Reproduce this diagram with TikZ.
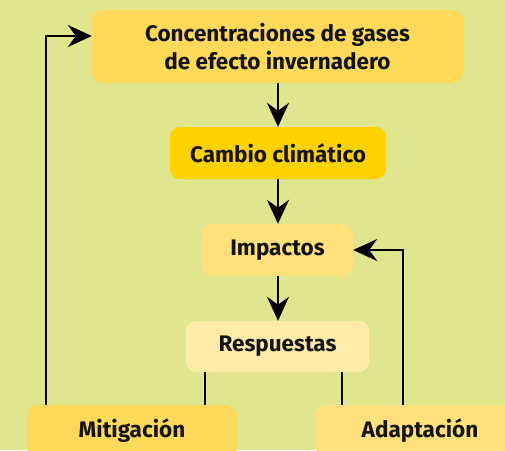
\documentclass[tikz,border=0pt]{standalone}
\usepackage{fontspec}
\setmainfont{Fira Sans}
\usetikzlibrary{arrows.meta}
\definecolor{bg}{RGB}{224,230,142}
\definecolor{boxA}{RGB}{255,217,90}
\definecolor{boxB}{RGB}{255,210,0}
\definecolor{boxC}{RGB}{255,224,122}
\definecolor{boxD}{RGB}{255,235,168}
\definecolor{txt}{RGB}{20,20,20}
\tikzset{
  box/.style={rectangle, rounded corners=10pt, inner sep=0pt, align=center,
    font=\fontsize{22.5}{28}\selectfont\bfseries, text=txt},
  arr/.style={line width=2.3pt, -{Stealth[length=24pt,width=22pt,inset=8pt]}},
  ln/.style={line width=2.3pt},
}
\begin{document}
\begin{tikzpicture}[x=1pt,y=-1pt]
\fill[bg] (0,0) rectangle (505,450);
\useasboundingbox (0,0) rectangle (505,450);
\clip (0,0) rectangle (505,450);
\node[box, fill=boxA, minimum width=371pt, minimum height=73pt] (top) at (277.5,46.5) {Concentraciones de gases\\de efecto invernadero};
\node[box, fill=boxB, minimum width=216pt, minimum height=52pt] (cc) at (278,153) {Cambio climático};
\node[box, fill=boxC, minimum width=151pt, minimum height=52pt] (imp) at (277.5,250) {Impactos};
\node[box, fill=boxD, minimum width=183pt, minimum height=51pt] (resp) at (277.5,346.5) {Respuestas};
\node[box, fill=boxA, minimum width=210pt, minimum height=52pt] (mit) at (132,431) {Mitigación};
\node[box, fill=boxC, minimum width=208pt, minimum height=52pt] (ad) at (420,431) {Adaptación};
\coordinate (lx) at (46,36);
\coordinate (rx) at (403,250);
\draw[arr] (top.south -| 278,0) -- (cc.north -| 278,0);
\draw[arr] (cc.south -| 278,0) -- (imp.north -| 278,0);
\draw[arr] (imp.south -| 278,0) -- (resp.north -| 278,0);
\draw[ln] (resp.south -| 205,0) -- (mit.north -| 205,0);
\draw[ln] (resp.south -| 342,0) -- (ad.north -| 342,0);
\draw[arr] (mit.north -| lx) -- (lx) -- (top.west |- lx);
\draw[arr] (ad.north -| rx) -- (rx) -- (imp.east);
\end{tikzpicture}
\end{document}
